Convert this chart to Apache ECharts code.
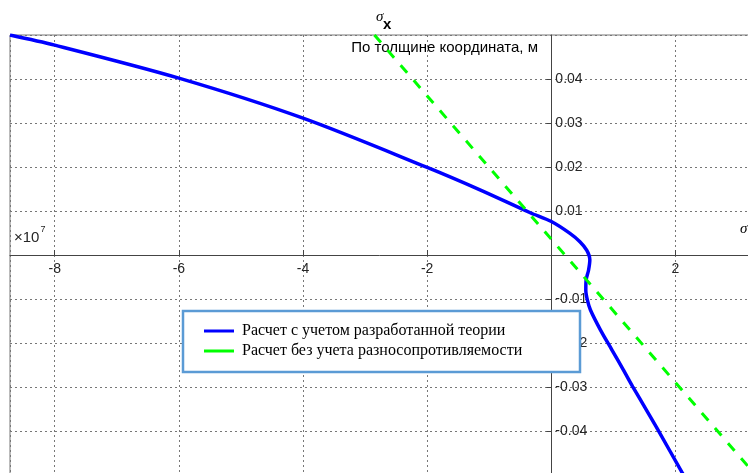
<!DOCTYPE html>
<html>
<head>
<meta charset="utf-8">
<script src="https://cdn.jsdelivr.net/npm/echarts@6/dist/echarts.min.js"></script>
<style>
  html, body { margin: 0; padding: 0; background: #fff; }
  #chart { width: 748px; height: 473px; }
</style>
</head>
<body>
<div id="chart"></div>
<script>
  // ось X — напряжение σx (×10^7), ось Y — координата по толщине, м
  var seriesNames = ['Расчет с учетом разработанной теории', 'Расчет без учета разносопротивляемости'];

  // кривая с учетом разработанной теории
  var theoryStress = [-8.72, -8.0, -6.0, -4.0, -2.0, -1.15, -0.34, 0.0, 0.30, 0.46, 0.57, 0.61, 0.62, 0.60, 0.56, 0.555, 0.58, 0.63, 0.79, 0.977, 1.16, 1.31, 1.53, 1.72, 2.10, 2.13];
  var theoryCoord = [0.05, 0.0477, 0.0402, 0.0311, 0.0199, 0.0148, 0.0096, 0.0076, 0.0049, 0.0030, 0.0011, -0.0002, -0.0011, -0.0034, -0.0057, -0.0080, -0.0102, -0.0125, -0.0170, -0.0216, -0.0261, -0.0299, -0.0352, -0.0398, -0.0493, -0.0500];

  // линейное распределение (без разносопротивляемости)
  var linearStress = [-2.85, 3.29];
  var linearCoord = [0.05, -0.05];

  function zip(xs, ys) {
    return xs.map(function (x, i) { return [x, ys[i]]; });
  }

  var labelFont = 'Liberation Sans';
  var serifFont = 'Liberation Serif';
  var gridLeft = 10, gridTop = 35, gridW = 740, gridH = 440;

  var option = {
    animation: false,
    backgroundColor: '#fff',
    grid: {
      show: true,
      left: gridLeft,
      top: gridTop,
      width: gridW,
      height: gridH,
      outerBoundsMode: 'none',
      containLabel: false,
      borderColor: '#777',
      borderWidth: 1
    },
    xAxis: {
      type: 'value',
      min: -8.72,
      max: 3.2,
      splitNumber: 6,
      axisLine: { show: true, onZero: false, lineStyle: { color: '#444', width: 1 } },
      axisTick: { show: true, inside: true, length: 5, lineStyle: { color: '#444' } },
      axisLabel: {
        showMinLabel: false,
        showMaxLabel: false,
        margin: 7,
        fontFamily: labelFont,
        fontSize: 14,
        color: '#262626',
        formatter: function (v) { return v === 0 ? '' : String(v); }
      },
      splitLine: { show: true, lineStyle: { color: '#777', type: [2, 3], width: 1 } }
    },
    yAxis: {
      type: 'value',
      min: -0.05,
      max: 0.05,
      interval: 0.01,
      axisLine: { show: true, onZero: false, lineStyle: { color: '#444', width: 1 } },
      axisTick: { show: true, inside: false, length: 5, lineStyle: { color: '#444' } },
      axisLabel: {
        inside: true,
        showMinLabel: false,
        showMaxLabel: false,
        margin: 4,
        fontFamily: labelFont,
        fontSize: 14,
        color: '#262626',
        formatter: function (v) { return Math.abs(v) < 1e-9 ? '' : v.toFixed(2); }
      },
      splitLine: { show: true, lineStyle: { color: '#777', type: [2, 3], width: 1 } }
    },
    legend: {
      orient: 'vertical',
      left: 204,
      top: 323,
      z: 5,
      icon: 'rect',
      itemWidth: 30,
      itemHeight: 3,
      itemGap: 4,
      padding: 0,
      selectedMode: false,
      textStyle: { fontFamily: serifFont, fontSize: 16, color: '#000', padding: [0, 0, 0, 3] },
      data: seriesNames
    },
    graphic: [
      // рамка легенды
      {
        type: 'rect',
        z: 3,
        shape: { x: 183, y: 311, width: 397, height: 61 },
        style: { fill: '#fff', stroke: '#5b9bd5', lineWidth: 2.5 }
      },
      // заголовок σx
      {
        type: 'text', z: 3,
        style: { x: 376, y: 17.5, text: 'σ', font: 'italic 15px ' + serifFont, fill: '#000', textVerticalAlign: 'middle' }
      },
      {
        type: 'text', z: 3,
        style: { x: 383, y: 25, text: 'x', font: 'bold 15px ' + labelFont, fill: '#000', textVerticalAlign: 'middle' }
      },
      // подпись оси Y
      {
        type: 'text', z: 3,
        style: { x: 538, y: 48, text: 'По толщине координата, м', font: '15px ' + labelFont, fill: '#000', textAlign: 'right', textVerticalAlign: 'middle' }
      },
      // множитель ×10^7
      {
        type: 'text', z: 3,
        style: { x: 14, y: 238, text: '×10', font: '15px ' + labelFont, fill: '#262626', textVerticalAlign: 'middle' }
      },
      {
        type: 'text', z: 3,
        style: { x: 40.5, y: 230, text: '7', font: '9px ' + labelFont, fill: '#262626', textVerticalAlign: 'middle' }
      },
      // подпись оси X (обрезана краем)
      {
        type: 'text', z: 3,
        style: { x: 740, y: 229, text: 'σ', font: 'italic 15px ' + serifFont, fill: '#000', textVerticalAlign: 'middle' }
      },
      {
        type: 'text', z: 3,
        style: { x: 748, y: 237, text: 'x', font: 'bold 15px ' + labelFont, fill: '#000', textVerticalAlign: 'middle' }
      }
    ],
    series: [
      {
        name: seriesNames[0],
        type: 'line',
        showSymbol: false,
        smooth: 0.3,
        color: '#0000ff',
        lineStyle: { width: 3.5, color: '#0000ff' },
        data: zip(theoryStress, theoryCoord)
      },
      {
        name: seriesNames[1],
        type: 'line',
        showSymbol: false,
        color: '#00ff00',
        lineStyle: { width: 3, color: '#00ff00', type: [10, 10] },
        data: zip(linearStress, linearCoord)
      }
    ]
  };

  var chart = echarts.init(document.getElementById('chart'));
  chart.setOption(option);

  // оси проходят через начало координат: сдвигаем их вместе с подписями
  var origin = chart.convertToPixel({ gridIndex: 0 }, [0, 0]);
  chart.setOption({
    xAxis: { offset: origin[1] - (gridTop + gridH) },
    yAxis: { offset: gridLeft - origin[0] }
  });
</script>
</body>
</html>
